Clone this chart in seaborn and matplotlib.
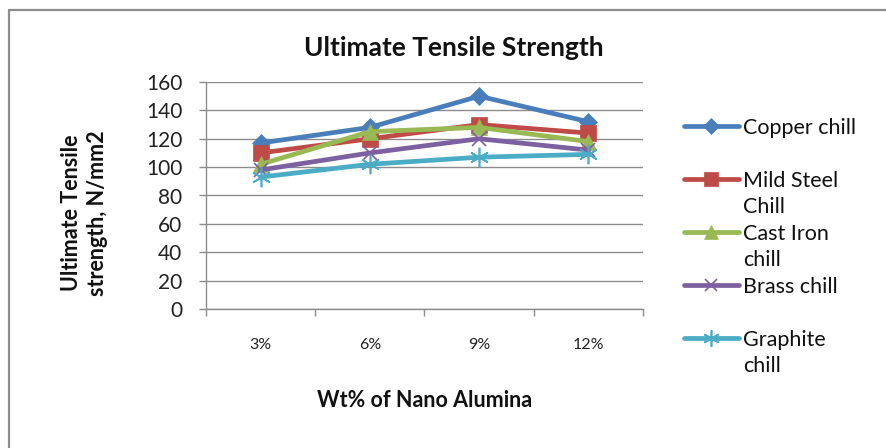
import matplotlib
matplotlib.use("Agg")
import matplotlib.pyplot as plt
from matplotlib.lines import Line2D
import seaborn as sns
import pandas as pd

categories = ["3%", "6%", "9%", "12%"]
copper = [117, 128, 150, 132]
mild_steel = [110, 120, 130, 124]
cast_iron = [102, 125, 128, 118]
brass = [98, 110, 120, 112]
graphite = [93, 102, 107, 109]
series_names = ["Copper chill", "Mild Steel Chill", "Cast Iron chill", "Brass chill", "Graphite chill"]
yticks = [0, 20, 40, 60, 80, 100, 120, 140, 160]

sns.set_theme(style="white")
plt.rcParams['font.family'] = ['Lato', 'DejaVu Sans']

colors = ["#4a7ebb", "#be4b48", "#98b954", "#7d60a0", "#4aacc5"]
markers = ["D", "s", "^", "x", (6, 2, 0)]
msizes = [9.5, 11.5, 11.5, 10.5, 14]

rows = []
for name, vals in zip(series_names, [copper, mild_steel, cast_iron, brass, graphite]):
    for i, v in enumerate(vals):
        rows.append({"series": name, "pos": i, "value": v})
df = pd.DataFrame(rows)

fig = plt.figure(figsize=(8.87, 4.48), dpi=100)
ax = fig.add_axes([206/887, 1-309/448, (643-206)/887, (309-82)/448])

for name, c, m, ms in zip(series_names, colors, markers, msizes):
    sub = df[df["series"] == name]
    sns.lineplot(data=sub, x="pos", y="value", ax=ax, color=c, linewidth=3.4,
                 marker=m, markersize=ms, markeredgecolor=c,
                 markeredgewidth=1.2 if m in ("x", (6, 2, 0)) else 0.5,
                 legend=False)

ax.set_xlim(-0.5, 3.5)
ax.set_ylim(0, 160)
ax.set_yticks(yticks)
ax.set_yticklabels([str(t) for t in yticks], fontsize=15, color="#222222")
ax.set_xticks(range(len(categories)))
ax.set_xticklabels(categories, fontsize=11.5, color="#222222")
ax.set_xticks([-0.5, 0.5, 1.5, 2.5, 3.5], minor=True)
ax.tick_params(axis="x", which="major", length=0, pad=21)
ax.tick_params(axis="x", which="minor", length=5, width=1, color="#8c8c8c", direction="out", bottom=True)
ax.tick_params(axis="y", length=5, width=1, color="#8c8c8c", direction="out", left=True, pad=12)
ax.grid(axis="y", color="#8c8c8c", linewidth=1.0)
ax.set_axisbelow(True)
for s in ["top", "right"]:
    ax.spines[s].set_visible(False)
for s in ["left", "bottom"]:
    ax.spines[s].set_color("#8c8c8c")
    ax.spines[s].set_linewidth(1.0)

ax.set_xlabel("Wt% of Nano Alumina", fontsize=15.5, fontweight="bold", color="#111111")
ax.xaxis.set_label_coords(0.5, (309-390)/227)
ax.set_ylabel("Ultimate Tensile\nstrength, N/mm2", fontsize=15.5, fontweight="bold",
              color="#111111", linespacing=1.3)
ax.yaxis.set_label_coords((108-206)/437, (309-213)/227)

fig.text(454/887, 1-48/448, "Ultimate Tensile Strength", fontsize=19, fontweight="bold",
         ha="center", va="center", color="#111111")

# legend rows placed like the original (handle on the first text line)
handles, labels = [], []
leg_rows = [
    (0, "Copper chill"), (None, ""),
    (1, "Mild Steel"), (None, "Chill"),
    (2, "Cast Iron"), (None, "chill"),
    (3, "Brass chill"), (None, ""),
    (4, "Graphite"), (None, "chill"),
]
for idx, lab in leg_rows:
    if idx is None:
        handles.append(Line2D([], [], alpha=0))
    else:
        m = markers[idx]
        handles.append(Line2D([], [], color=colors[idx], linewidth=3.4, marker=m,
                              markersize=msizes[idx] * 0.85, markeredgecolor=colors[idx],
                              markeredgewidth=1.2 if m in ("x", (6, 2, 0)) else 0.5))
    labels.append(lab)
leg = fig.legend(handles, labels, loc="upper left", bbox_to_anchor=(684/887, 1-118/448),
                 frameon=False, fontsize=15.5, handlelength=2.55, handletextpad=0.2,
                 labelspacing=0.3, borderpad=0, borderaxespad=0)
for t in leg.get_texts():
    t.set_color("#111111")

# outer chart border (top and left)
fig.add_artist(Line2D([9/887, 1.0], [1-10/448, 1-10/448], color="#8c8c8c", linewidth=1.6,
                      transform=fig.transFigure))
fig.add_artist(Line2D([9/887, 9/887], [0, 1-10/448], color="#8c8c8c", linewidth=1.6,
                      transform=fig.transFigure))

fig.savefig("out.png", dpi=100)
